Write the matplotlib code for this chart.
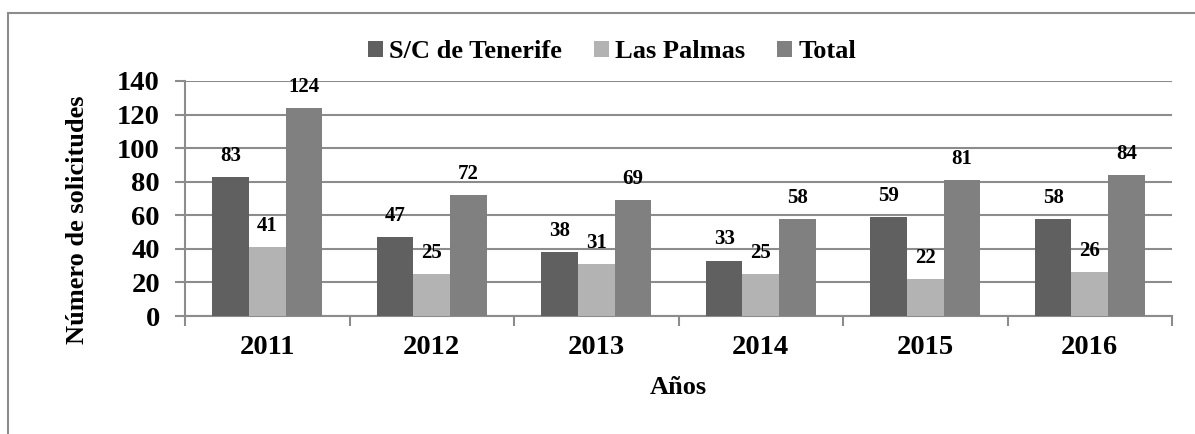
import matplotlib
matplotlib.use("Agg")
import matplotlib.pyplot as plt
import numpy as np
from matplotlib.patches import Patch, Rectangle

# Solicitudes por provincia y año
anios = ['2011', '2012', '2013', '2014', '2015', '2016']
tenerife = [83, 47, 38, 33, 59, 58]
las_palmas = [41, 25, 31, 25, 22, 26]
total = [124, 72, 69, 58, 81, 84]

series = ['S/C de Tenerife', 'Las Palmas', 'Total']
colores = ['#606060', '#b3b3b3', '#808080']
gris = '#8c8c8c'

plt.rcParams['font.family'] = 'Liberation Serif'
plt.rcParams['font.weight'] = 'bold'

fig = plt.figure(figsize=(11.95, 4.34), dpi=100)
W, H = 1195, 434
ax = fig.add_axes([185 / W, 1 - 316 / H, (1172 - 185) / W, (316 - 81) / H])

# Marco exterior del gráfico
fig.patches.append(Rectangle((7.5 / W, -0.05), 1.2, (434 - 13.5) / H + 0.05,
                             transform=fig.transFigure, fill=False,
                             edgecolor=gris, linewidth=1.5, clip_on=False))

x = np.arange(len(anios))
w = 1 / 4.5
for i, (valores, color) in enumerate(zip([tenerife, las_palmas, total], colores)):
    barras = ax.bar(x + (i - 1) * w, valores, w, color=color, zorder=3)
    for b, v in zip(barras, valores):
        ax.annotate(str(v), (b.get_x() + b.get_width() / 2, v),
                    xytext=(0, 8), textcoords='offset points',
                    ha='center', va='bottom', fontsize=15, fontweight='bold', zorder=4)

ax.set_xlim(-0.5, len(anios) - 0.5)
ax.set_ylim(0, 140)
ax.set_yticks(range(0, 141, 20))
ax.yaxis.grid(True, color=gris, linewidth=1.5, zorder=0)
ax.set_axisbelow(True)

ax.set_xticks(x)
ax.set_xticklabels(anios, fontsize=20.5, fontweight='bold')
ax.set_xticks(np.arange(-0.5, len(anios)), minor=True)
ax.tick_params(axis='x', which='major', length=0, pad=14)
ax.tick_params(axis='x', which='minor', length=7, width=1.5, color=gris, direction='out')
ax.tick_params(axis='y', length=7, width=1.5, color=gris, pad=11, labelsize=20.5)
for t in ax.get_yticklabels():
    t.set_fontweight('bold')

for lado in ['top', 'right']:
    ax.spines[lado].set_visible(False)
for lado in ['left', 'bottom']:
    ax.spines[lado].set_color(gris)
    ax.spines[lado].set_linewidth(1.5)

ax.set_xlabel('Años', fontsize=19, fontweight='bold', va='center')
ax.xaxis.set_label_coords(0.5, (316 - 388) / 235)
ax.set_ylabel('Número de solicitudes', fontsize=19, fontweight='bold', va='center', ha='center')
ax.yaxis.set_label_coords((78 - 185) / 987, (316 - 220) / 235)

handles = [Patch(facecolor=c, label=s) for s, c in zip(series, colores)]
fig.legend(handles=handles, loc='center', bbox_to_anchor=(612 / W, 1 - 52 / H),
           ncol=3, frameon=False, handlelength=0.57, handleheight=0.57,
           handletextpad=0.25, columnspacing=1.2, prop={'size': 19, 'weight': 'bold'})

fig.savefig('out.png', dpi=100)
